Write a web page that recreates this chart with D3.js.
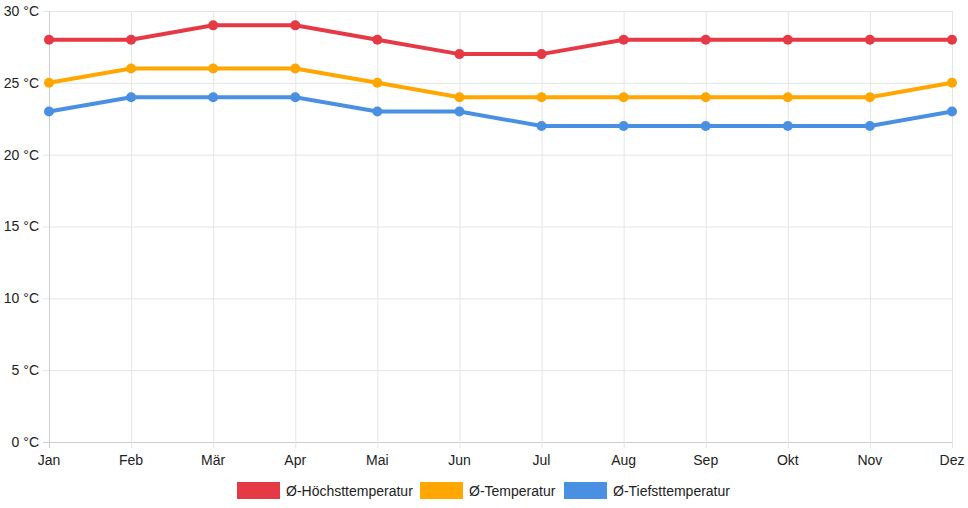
<!DOCTYPE html>
<html>
<head>
<meta charset="utf-8">
<script src="https://cdn.jsdelivr.net/npm/d3@7"></script>
<style>
  body { margin: 0; background: #fff; }
  text { font-family: "Liberation Sans", Arial, sans-serif; }
</style>
</head>
<body>
<div id="chart"></div>
<script>
var months = ["Jan", "Feb", "Mär", "Apr", "Mai", "Jun", "Jul", "Aug", "Sep", "Okt", "Nov", "Dez"];
var maxTemp = [28, 28, 29, 29, 28, 27, 27, 28, 28, 28, 28, 28];
var meanTemp = [25, 26, 26, 26, 25, 24, 24, 24, 24, 24, 24, 25];
var minTemp = [23, 24, 24, 24, 23, 23, 22, 22, 22, 22, 22, 23];
var yTicks = [0, 5, 10, 15, 20, 25, 30];

var series = [
  { name: "Ø-Höchsttemperatur", values: maxTemp, color: "#e63946" },
  { name: "Ø-Temperatur", values: meanTemp, color: "#ffa600" },
  { name: "Ø-Tiefsttemperatur", values: minTemp, color: "#4a90e2" }
];

var width = 968;
var height = 508;
var margin = { left: 49, right: 16, top: 11, bottom: 66 };

var svg = d3.select("#chart")
    .append("svg")
    .attr("width", width)
    .attr("height", height);

var x = d3.scalePoint()
    .domain(months)
    .range([margin.left, width - margin.right]);

var y = d3.scaleLinear()
    .domain([0, 30])
    .range([height - margin.bottom, margin.top]);

// grid
svg.append("g")
  .selectAll("line")
  .data(yTicks)
  .enter()
  .append("line")
  .attr("x1", margin.left - 6)
  .attr("x2", width - margin.right)
  .attr("y1", d => y(d) + 0.5)
  .attr("y2", d => y(d) + 0.5)
  .attr("stroke", d => d == 0 ? "#ccc" : "#e5e5e5");

svg.append("g")
  .selectAll("line")
  .data(months)
  .enter()
  .append("line")
  .attr("x1", d => x(d) + 0.5)
  .attr("x2", d => x(d) + 0.5)
  .attr("y1", margin.top)
  .attr("y2", height - margin.bottom + 6)
  .attr("stroke", (d, i) => i == 0 ? "#ccc" : "#e5e5e5");

// axis labels
svg.append("g")
  .selectAll("text")
  .data(yTicks)
  .enter()
  .append("text")
  .attr("x", margin.left - 10)
  .attr("y", d => y(d))
  .attr("dy", "0.35em")
  .attr("text-anchor", "end")
  .attr("font-size", 14)
  .attr("fill", "#222")
  .text(d => d + " °C");

svg.append("g")
  .selectAll("text")
  .data(months)
  .enter()
  .append("text")
  .attr("x", d => x(d))
  .attr("y", height - margin.bottom + 23)
  .attr("text-anchor", "middle")
  .attr("font-size", 14)
  .attr("fill", "#222")
  .text(d => d);

// lines
var line = d3.line()
    .x((d, i) => x(months[i]))
    .y(d => y(d));

series.forEach(function(s) {
  svg.append("path")
    .datum(s.values)
    .attr("d", line)
    .attr("fill", "none")
    .attr("stroke", s.color)
    .attr("stroke-width", 4);

  svg.append("g")
    .selectAll("circle")
    .data(s.values)
    .enter()
    .append("circle")
    .attr("cx", (d, i) => x(months[i]))
    .attr("cy", d => y(d))
    .attr("r", 5)
    .attr("fill", s.color);
});

// legend
var legendX = [237, 420, 564];
var legend = svg.append("g")
  .selectAll("g")
  .data(series)
  .enter()
  .append("g")
  .attr("transform", (d, i) => "translate(" + legendX[i] + ",482)");

legend.append("rect")
  .attr("width", 43)
  .attr("height", 17)
  .attr("fill", d => d.color);

legend.append("text")
  .attr("x", 49)
  .attr("y", 9)
  .attr("dy", "0.35em")
  .attr("font-size", 14)
  .attr("fill", "#222")
  .text(d => d.name);
</script>
</body>
</html>
